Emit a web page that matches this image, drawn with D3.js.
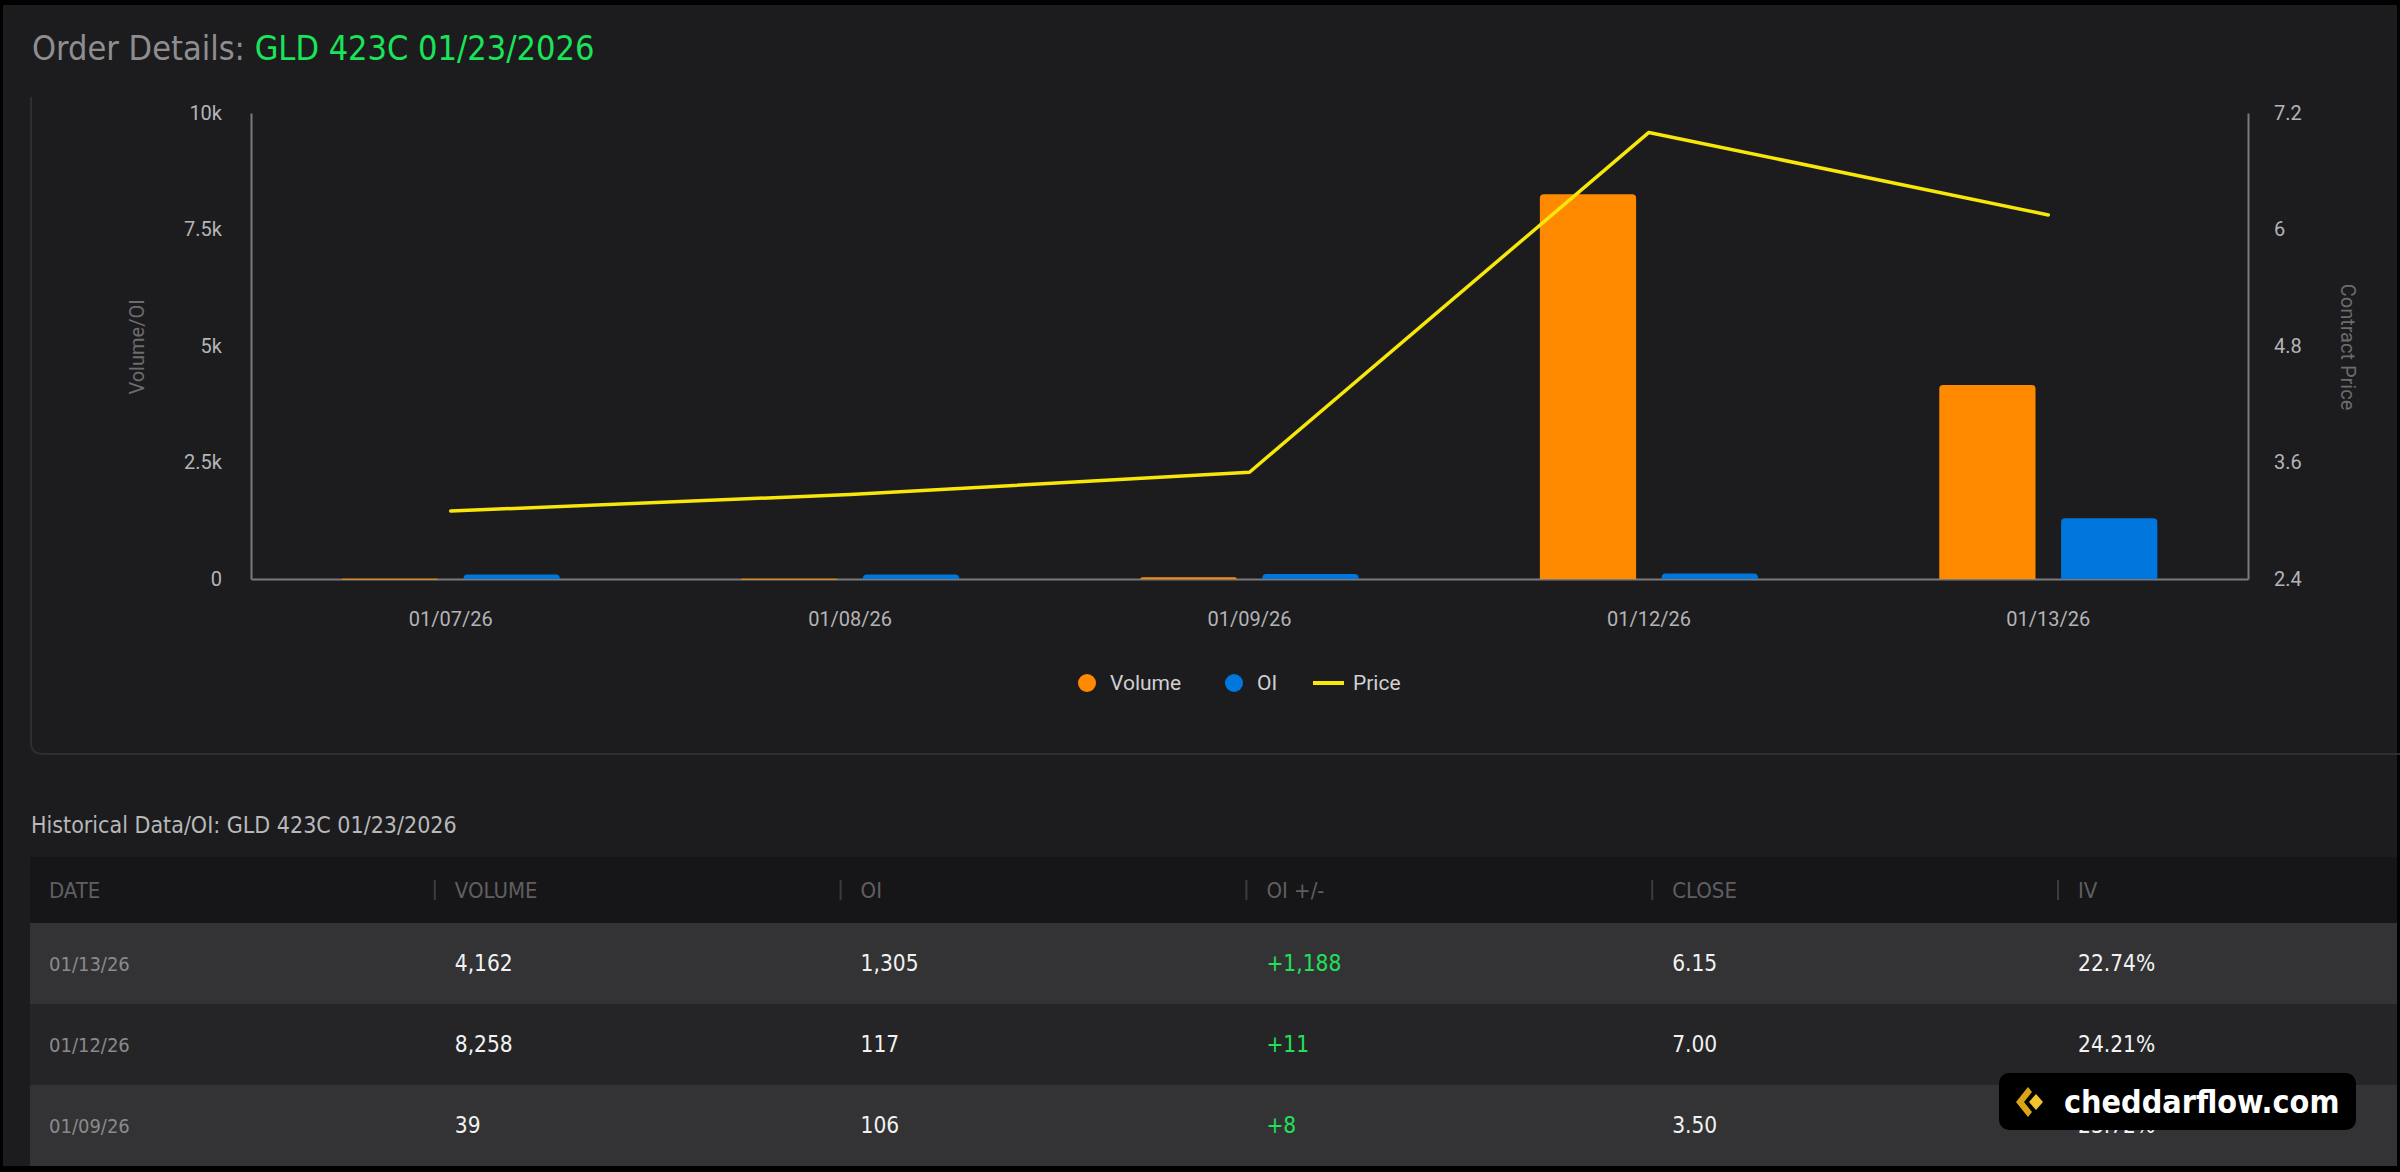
<!DOCTYPE html>
<html>
<head>
<meta charset="utf-8">
<script src="https://cdn.jsdelivr.net/npm/d3@7"></script>
<style>
  html, body { margin: 0; padding: 0; background: #000; }
  svg { display: block; }
</style>
</head>
<body>
<div id="chart"></div>
<script>
// chart data
const dates = ["01/07/26", "01/08/26", "01/09/26", "01/12/26", "01/13/26"];
const volume = [8, 6, 39, 8258, 4162];
const openInterest = [94, 98, 106, 117, 1305];
const price = [3.10, 3.27, 3.50, 7.00, 6.15];
const volTicks = [0, 2500, 5000, 7500, 10000];
const priceTicks = [2.4, 3.6, 4.8, 6, 7.2];

// table data (newest first)
const tableDates = ["01/13/26", "01/12/26", "01/09/26"];
const tableVolume = [4162, 8258, 39];
const tableOI = [1305, 117, 106];
const tableOIChange = [1188, 11, 8];
const tableClose = [6.15, 7.00, 3.50];
const tableIV = ["22.74%", "24.21%", "23.72%"];
const tableHeaders = ["DATE", "VOLUME", "OI", "OI +/-", "CLOSE", "IV"];

const W = 2400, H = 1172;
const condensed = "'Liberation Sans Narrow', 'DejaVu Sans Condensed', Roboto, sans-serif";
const plain = "Roboto, 'Noto Sans', sans-serif";

const svg = d3.select("#chart").append("svg")
  .attr("width", W).attr("height", H);

// page background with black frame
svg.append("rect").attr("width", W).attr("height", H).attr("fill", "#000");
svg.append("rect").attr("x", 3).attr("y", 5).attr("width", W - 6).attr("height", H - 11)
  .attr("fill", "#1c1c1e");

// title
const title = svg.append("text")
  .attr("x", 32).attr("y", 60)
  .attr("font-family", condensed).attr("font-size", 34);
title.append("tspan").attr("fill", "#8e8e90").text("Order Details: ");
title.append("tspan").attr("fill", "#19e45a").text("GLD 423C 01/23/2026");

// chart panel border (top cut off)
svg.append("path")
  .attr("d", "M31,97 V742 Q31,754 43,754 H2400")
  .attr("fill", "none").attr("stroke", "#2e2e30").attr("stroke-width", 2);

// scales
const plotL = 251, plotR = 2248, plotT = 113, plotB = 579;
const x0 = d3.scaleBand().domain(dates).range([plotL, plotR])
  .paddingInner(0.454).paddingOuter(0.227);
const x1 = d3.scaleBand().domain(["vol", "oi"]).range([0, x0.bandwidth()])
  .paddingInner(0.21);
const yVol = d3.scaleLinear().domain([0, 10000]).range([plotB, plotT]);
const yPrice = d3.scaleLinear().domain([2.4, 7.2]).range([plotB, plotT]);

// axes
const axisColor = "#7a7a7c";
const gLeft = svg.append("g").attr("transform", `translate(${plotL},0)`)
  .call(d3.axisLeft(yVol).tickValues(volTicks).tickSize(0).tickPadding(29)
    .tickFormat(d => d === 0 ? "0" : (d / 1000) + "k"));
const gRight = svg.append("g").attr("transform", `translate(${plotR},0)`)
  .call(d3.axisRight(yPrice).tickValues(priceTicks).tickSize(0).tickPadding(26)
    .tickFormat(d => String(+d.toFixed(2))));
const gBottom = svg.append("g").attr("transform", `translate(0,${plotB})`)
  .call(d3.axisBottom(x0).tickSize(0).tickPadding(33));

[gLeft, gRight, gBottom].forEach(g => {
  g.select(".domain").attr("stroke", axisColor).attr("stroke-width", 2);
  g.selectAll("text").attr("fill", "#b4b4b6").attr("font-size", 20)
    .attr("font-family", plain);
});

// axis titles
svg.append("text")
  .attr("transform", "translate(137,347) rotate(-90)")
  .attr("text-anchor", "middle").attr("dominant-baseline", "central")
  .attr("fill", "#6c6c6e").attr("font-size", 20).attr("font-family", plain)
  .text("Volume/OI");
svg.append("text")
  .attr("transform", "translate(2348,347) rotate(90)")
  .attr("text-anchor", "middle").attr("dominant-baseline", "central")
  .attr("fill", "#6c6c6e").attr("font-size", 20).attr("font-family", plain)
  .text("Contract Price");

// bars with rounded tops
const colors = { vol: "#ff8a00", oi: "#0077dd" };
const roundTop = (x, y, w, h, r) => {
  r = Math.min(r, h, w / 2);
  return `M${x},${y + h} V${y + r} Q${x},${y} ${x + r},${y} H${x + w - r} Q${x + w},${y} ${x + w},${y + r} V${y + h} Z`;
};
const barData = [];
dates.forEach((d, i) => {
  barData.push({ date: d, key: "vol", value: volume[i] });
  barData.push({ date: d, key: "oi", value: openInterest[i] });
});
svg.append("g").selectAll("path")
  .data(barData)
  .enter()
  .append("path")
  .attr("fill", d => colors[d.key])
  .attr("d", d => {
    const x = x0(d.date) + x1(d.key);
    const y = yVol(d.value);
    return roundTop(x, y, x1.bandwidth(), Math.max(plotB - y, 1), 4);
  });

// price line
const line = d3.line()
  .x((d, i) => x0(dates[i]) + x0.bandwidth() / 2)
  .y(d => yPrice(d));
svg.append("path")
  .datum(price)
  .attr("fill", "none")
  .attr("stroke", "#f7e80a")
  .attr("stroke-width", 3.5)
  .attr("stroke-linejoin", "round")
  .attr("stroke-linecap", "round")
  .attr("d", line);

// legend
const legendY = 683;
const legend = svg.append("g").attr("font-family", plain).attr("font-size", 21)
  .attr("fill", "#d0d0d2");
legend.append("circle").attr("cx", 1087).attr("cy", legendY).attr("r", 9).attr("fill", colors.vol);
legend.append("text").attr("x", 1110).attr("y", legendY).attr("dy", "0.35em").text("Volume");
legend.append("circle").attr("cx", 1234).attr("cy", legendY).attr("r", 9).attr("fill", colors.oi);
legend.append("text").attr("x", 1257).attr("y", legendY).attr("dy", "0.35em").text("OI");
legend.append("line").attr("x1", 1313).attr("x2", 1344).attr("y1", legendY).attr("y2", legendY)
  .attr("stroke", "#f7e80a").attr("stroke-width", 4);
legend.append("text").attr("x", 1353).attr("y", legendY).attr("dy", "0.35em").text("Price");

// ---- historical table ----
svg.append("text")
  .attr("x", 31).attr("y", 833)
  .attr("fill", "#b8b8ba").attr("font-size", 23).attr("font-family", condensed)
  .text("Historical Data/OI: GLD 423C 01/23/2026");

const colX = d3.scaleLinear().domain([0, 1]).range([49, 454.8]);
const headTop = 857, headH = 66, rowH = 81;

svg.append("rect").attr("x", 30).attr("y", headTop).attr("width", W - 33).attr("height", headH)
  .attr("fill", "#161618");
tableHeaders.forEach((h, i) => {
  if (i > 0) {
    svg.append("rect").attr("x", colX(i) - 21).attr("y", headTop + headH / 2 - 10)
      .attr("width", 2).attr("height", 20).attr("fill", "#3c3c3e");
  }
  svg.append("text").attr("x", colX(i)).attr("y", headTop + headH / 2)
    .attr("dy", "0.35em").attr("fill", "#5f5f61").attr("font-size", 22)
    .attr("font-weight", 500)
    .attr("font-family", condensed).text(h);
});

const fmt = d3.format(",");
tableDates.forEach((d, r) => {
  const y = headTop + headH + r * rowH;
  svg.append("rect").attr("x", 30).attr("y", y).attr("width", W - 33).attr("height", rowH)
    .attr("fill", r % 2 === 0 ? "#333335" : "#252527");
  const cells = [
    { t: d, c: "#8a8a8c", s: 20 },
    { t: fmt(tableVolume[r]), c: "#f2f2f2", s: 22.5 },
    { t: fmt(tableOI[r]), c: "#f2f2f2", s: 22.5 },
    { t: "+" + fmt(tableOIChange[r]), c: "#22e05a", s: 22.5 },
    { t: tableClose[r].toFixed(2), c: "#f2f2f2", s: 22.5 },
    { t: tableIV[r], c: "#f2f2f2", s: 22.5 }
  ];
  cells.forEach((cell, i) => {
    svg.append("text").attr("x", colX(i)).attr("y", y + rowH / 2)
      .attr("dy", "0.35em").attr("fill", cell.c).attr("font-size", cell.s)
      .attr("font-family", condensed).text(cell.t);
  });
});

// watermark badge
const badge = svg.append("g");
badge.append("rect").attr("x", 1999).attr("y", 1073).attr("width", 357).attr("height", 57)
  .attr("rx", 10).attr("fill", "#000");
badge.append("path").attr("d", "M2028,1087 L2016,1102 L2028,1117 L2032,1112 L2024,1102 L2032,1092 Z")
  .attr("fill", "#d9a514");
badge.append("path").attr("d", "M2036,1094 L2029,1102 L2036,1110 L2043,1102 Z")
  .attr("fill", "#f2c230");
badge.append("text").attr("x", 2064).attr("y", 1102).attr("dy", "0.35em")
  .attr("fill", "#fff").attr("font-size", 32).attr("font-weight", "bold")
  .attr("font-family", condensed).text("cheddarflow.com");
</script>
</body>
</html>
